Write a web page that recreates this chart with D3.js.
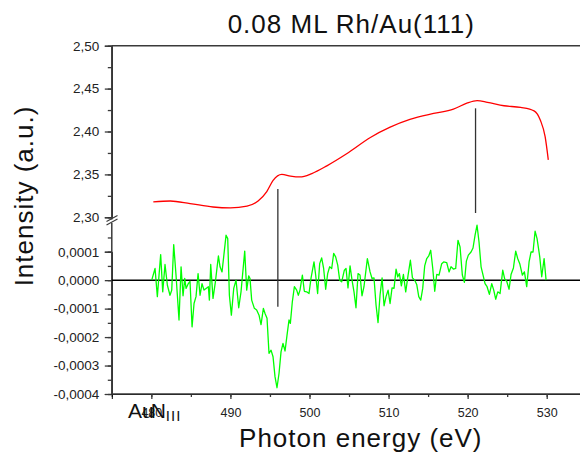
<!DOCTYPE html>
<html>
<head>
<meta charset="utf-8">
<script src="https://cdn.jsdelivr.net/npm/d3@7"></script>
<style>
  html, body { margin: 0; padding: 0; background: #fff; }
  svg { display: block; font-family: Arial, "Liberation Sans", sans-serif; }
</style>
</head>
<body>
<div id="chart"></div>
<script>
// Au N_III edge of 0.08 ML Rh/Au(111): raw intensity (top, red) and
// derivative-like difference signal (bottom, green) on a broken y axis.

const redEnergy = [480.25, 482.4, 484.9, 487.8, 490, 492.1, 493.5, 494.6, 495.4, 496.5,
  497.6, 498.8, 500.3, 502.2, 504.7, 507.7, 510.2, 512.7, 515.7, 518.2,
  519.9, 521.2, 522.5, 524.6, 526.7, 528.4, 529.2, 529.8, 530.2];
const redIntensity = [2.318, 2.319, 2.316, 2.312, 2.311, 2.313, 2.319, 2.330, 2.343, 2.350,
  2.348, 2.347, 2.351, 2.360, 2.374, 2.393, 2.405, 2.414, 2.421, 2.426,
  2.433, 2.436, 2.434, 2.430, 2.428, 2.424, 2.413, 2.394, 2.367];

// green signal, values in units of 1e-4
const greenEnergy = [480.05, 480.47, 480.76, 481.18, 481.44, 481.73, 482.03, 482.36, 482.58, 482.83,
  483.12, 483.50, 483.76, 484.01, 484.22, 484.39, 484.68, 484.89, 485.15, 485.40,
  485.65, 485.91, 486.16, 486.41, 486.66, 486.92, 487.21, 487.34, 487.51, 487.80,
  488.10, 488.48, 488.69, 488.94, 489.45, 489.66, 489.87, 490.12, 490.42, 490.71,
  491.05, 491.34, 491.81, 492.06, 492.31, 492.48, 492.69, 493.03, 493.32, 493.62,
  493.87, 494.17, 494.38, 494.63, 494.88, 495.14, 495.39, 495.64, 495.89, 496.15,
  496.40, 496.65, 496.91, 497.16, 497.41, 497.58, 497.83, 498.09, 498.38, 498.59,
  498.80, 499.10, 499.35, 499.64, 499.94, 500.19, 500.57, 500.78, 501.03, 501.29,
  501.54, 501.79, 502.05, 502.30, 502.55, 502.81, 503.06, 503.31, 503.57, 503.82,
  504.07, 504.41, 504.62, 504.87, 505.13, 505.38, 505.63, 505.88, 506.14, 506.39,
  506.64, 506.89, 507.32, 507.66, 507.91, 508.16, 508.42, 508.67, 508.92, 509.18,
  509.43, 509.68, 509.94, 510.19, 510.44, 510.69, 510.95, 511.16, 511.37, 511.62,
  511.88, 512.17, 512.47, 512.76, 513.02, 513.31, 513.56, 513.82, 514.07, 514.32,
  514.57, 514.83, 515.08, 515.33, 515.59, 515.84, 516.09, 516.38, 516.72, 516.97,
  517.35, 517.65, 517.90, 518.20, 518.49, 518.78, 519.04, 519.33, 519.59, 519.84,
  520.09, 520.43, 520.68, 520.94, 521.19, 521.44, 521.70, 521.95, 522.20, 522.46,
  522.75, 523.05, 523.30, 523.55, 523.81, 524.10, 524.44, 524.69, 524.94, 525.24,
  525.49, 525.79, 526.08, 526.33, 526.59, 526.92, 527.18, 527.47, 527.77, 528.02,
  528.27, 528.53, 528.78, 529.12, 529.37, 529.67, 529.92];
const greenSignal = [0, 0.41, -0.58, 0.90, -0.41, 0.55, -0.18, -0.53, -0.35, 1.25,
  0.18, -1.40, 0.47, -0.55, 0.06, -0.29, -0.12, -0.04, -1.64, -0.82,
  -0.58, 0.23, -0.53, -0.12, -0.35, -0.29, -0.23, -0.70, 0.55, -0.64,
  -0.06, 0.85, 0.47, 0.29, 1.58, 1.46, -0.53, -1.23, -0.29, 0,
  -0.97, -0.41, 1.02, -0.35, 0.15, 0.06, -0.70, -0.99, -1.05, -1.23,
  -1.56, -0.99, -1.17, -1.34, -2.57, -2.46, -2.69, -3.39, -3.78, -3.27,
  -2.52, -2.22, -2.49, -1.93, -1.40, -1.52, -0.76, -0.23, -0.35, -0.53,
  -0.35, 0.18, -0.39, -0.41, -0.47, 0.06, 0.64, 0.18, -0.47, 0.58,
  0.78, 0.41, -0.32, 0.23, 0.47, 0.41, 0.94, 0.82, 0.53, 0,
  -0.06, 0.35, 0.41, -0.27, 0.50, 0, -0.41, -0.97, 0.23, 0.18,
  -0.55, -0.23, 0.76, 0.29, 0.06, 0.08, -0.88, -1.49, -0.53, 0.08,
  -0.90, -0.58, -0.35, -0.82, -0.27, -0.29, 0.39, 0.12, 0.23, -0.20,
  0.20, -0.41, 0.18, 0.70, 0.08, 0, -0.15, -0.58, -0.70, -0.29,
  0.50, 0.76, 0.85, 1.05, 0.41, -0.39, 0.20, 0.18, 0.58, 0.64,
  0.62, 0.29, 0.47, 0.39, 0.41, 1.40, 1.17, 0.18, -0.08, 0.67,
  0.88, 0.99, 1.13, 1.58, 1.93, 1.34, 0.47, 0.18, -0.12, -0.23,
  -0.50, -0.12, -0.35, -0.67, -0.41, -0.47, 0.35, 0.04, -0.04, -0.32,
  0.20, 0.43, 1.02, 0.76, 0.58, 0.18, 0.29, -0.23, 0.64, 0.99,
  0.99, 1.72, 1.46, 0.82, 0.12, 0.76, 0];

const xTicks = [480, 490, 500, 510, 520, 530];
const topTicks = [2.30, 2.35, 2.40, 2.45, 2.50];
const bottomTicks = [-4, -3, -2, -1, 0, 1];

// marker lines: energy, top value (top panel), bottom value and its panel
const markers = [
  { e: 496, top: 2.333, bottom: -0.93, panel: 'bottom' },
  { e: 521, top: 2.427, bottom: 2.305, panel: 'top' },
];

const W = 580, H = 455;
const axisColor = '#3a3a3a';

const svg = d3.select('#chart').append('svg')
  .attr('width', W).attr('height', H);
svg.append('rect').attr('width', W).attr('height', H).attr('fill', '#fff');

const x = d3.scaleLinear().domain([475, 534.21]).range([111.8, 580]);
const yTop = d3.scaleLinear().domain([2.30, 2.50]).range([217.3, 45.7]);
const yBot = d3.scaleLinear().domain([-4, 1]).range([394, 251.7]);

const comma = d3.formatLocale({ decimal: ',', thousands: '.', grouping: [3], currency: ['', ''], minus: '-' });
const fmtTop = comma.format('.2f');
const fmtBot = comma.format('.4f');

// ---- axes ----
function styleAxis(g, size) {
  g.select('.domain').remove();
  g.selectAll('line').attr('stroke', axisColor).attr('stroke-width', 1.3);
  g.selectAll('text').attr('fill', '#222').style('font-size', size + 'px')
    .style('font-family', 'Arial, "Liberation Sans", sans-serif');
}

const xAxis = svg.append('g').attr('transform', 'translate(0,394)');
xAxis.call(d3.axisBottom(x).tickValues(d3.range(475, 531, 5)).tickSize(3).tickFormat(''));
xAxis.append('g').call(d3.axisBottom(x).tickValues(xTicks).tickSize(5).tickPadding(9).tickFormat(d3.format('d')));
styleAxis(xAxis, 12.5);

const topAxis = svg.append('g').attr('transform', 'translate(111.8,0)');
topAxis.call(d3.axisLeft(yTop).tickValues(d3.range(2.30, 2.501, 0.025)).tickSize(4).tickFormat(''));
topAxis.append('g').call(d3.axisLeft(yTop).tickValues(topTicks).tickSize(7).tickPadding(5.5).tickFormat(fmtTop));
styleAxis(topAxis, 13.5);

const botAxis = svg.append('g').attr('transform', 'translate(111.8,0)');
botAxis.call(d3.axisLeft(yBot).tickValues(d3.range(-4, 1.6, 0.5)).tickSize(4).tickFormat(''));
botAxis.append('g').call(d3.axisLeft(yBot).tickValues(bottomTicks).tickSize(7).tickPadding(5.5)
  .tickFormat((d) => fmtBot(d * 1e-4)));
styleAxis(botAxis, 13.5);

// axis lines with the break
const frame = svg.append('g').attr('stroke', axisColor).attr('stroke-width', 1.5).attr('fill', 'none');
frame.append('line').attr('x1', 111.8).attr('x2', 111.8).attr('y1', 45.7).attr('y2', 219.5);
frame.append('line').attr('x1', 111.8).attr('x2', 111.8).attr('y1', 223).attr('y2', 394);
frame.append('line').attr('x1', 111.8).attr('x2', W).attr('y1', 45.7).attr('y2', 45.7);
frame.append('line').attr('x1', 111.8).attr('x2', W).attr('y1', 394).attr('y2', 394);
[0, 3.5].forEach((o) => {
  frame.append('line').attr('x1', 106.5).attr('y1', 221.5 + o).attr('x2', 117.5).attr('y2', 215.5 + o)
    .attr('stroke-width', 1.1);
});

// zero line
svg.append('line').attr('x1', 111.8).attr('x2', W)
  .attr('y1', yBot(0)).attr('y2', yBot(0))
  .attr('stroke', '#000').attr('stroke-width', 1.5);

// ---- series ----
const redLine = d3.line().x((d, i) => x(redEnergy[i])).y((d) => yTop(d)).curve(d3.curveMonotoneX);
svg.append('path').attr('d', redLine(redIntensity))
  .attr('fill', 'none').attr('stroke', '#ff0000').attr('stroke-width', 1.3);

const greenLine = d3.line().x((d, i) => x(greenEnergy[i])).y((d) => yBot(d));
svg.append('path').attr('d', greenLine(greenSignal))
  .attr('fill', 'none').attr('stroke', '#00ff00').attr('stroke-width', 1.3)
  .attr('stroke-linejoin', 'round');

// marker lines
svg.append('g').selectAll('line').data(markers).enter().append('line')
  .attr('x1', (d) => x(d.e)).attr('x2', (d) => x(d.e))
  .attr('y1', (d) => yTop(d.top))
  .attr('y2', (d) => (d.panel === 'top' ? yTop(d.bottom) : yBot(d.bottom)))
  .attr('stroke', '#333').attr('stroke-width', 1.3);

// ---- texts ----
svg.append('text').attr('x', 351.3).attr('y', 33).attr('text-anchor', 'middle')
  .style('font-size', '26px').style('letter-spacing', '1px').attr('fill', '#111')
  .text('0.08 ML Rh/Au(111)');

svg.append('text').attr('transform', 'translate(33,196) rotate(-90)').attr('text-anchor', 'middle')
  .style('font-size', '26px').style('letter-spacing', '1px').attr('fill', '#111')
  .text('Intensity (a.u.)');

svg.append('text').attr('x', 360.8).attr('y', 446.5).attr('text-anchor', 'middle')
  .style('font-size', '26px').style('letter-spacing', '1px').attr('fill', '#111')
  .text('Photon energy (eV)');

const edge = svg.append('text').attr('x', 128).attr('y', 418.3)
  .style('font-size', '21px').attr('fill', '#111');
edge.append('tspan').text('Au');
edge.append('tspan').attr('dx', -3).text('N');
edge.append('tspan').attr('dy', 3).style('font-size', '15px').style('letter-spacing', '1px').text('III');
</script>
</body>
</html>
